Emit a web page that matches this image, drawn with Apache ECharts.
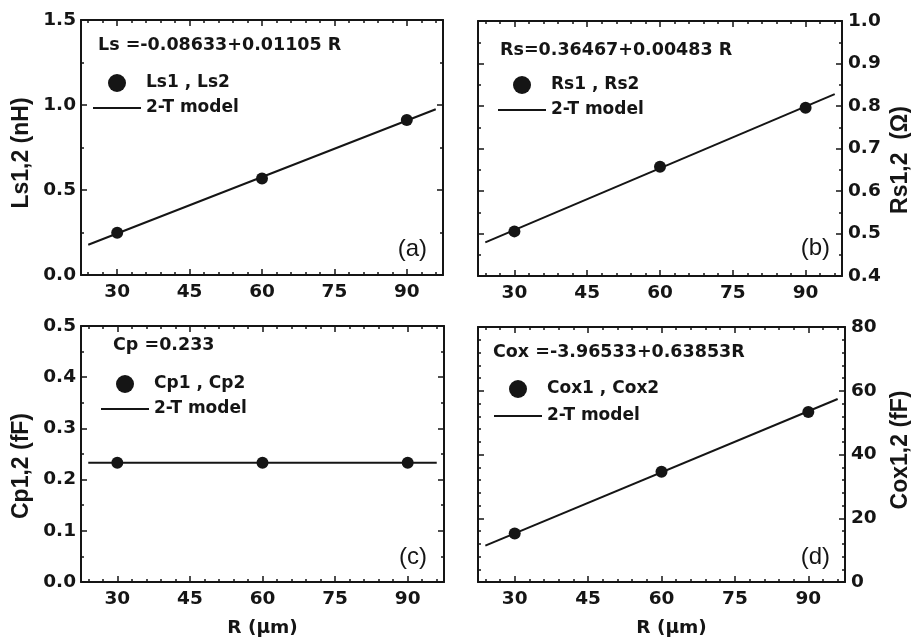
<!DOCTYPE html>
<html>
<head>
<meta charset="utf-8">
<script src="https://cdn.jsdelivr.net/npm/echarts@6/dist/echarts.min.js"></script>
<style>html,body{margin:0;padding:0;background:#fff}#c{width:911px;height:643px}</style>
</head>
<body>
<div id="c"></div>
<script>
// ---- data ----
const R = [30, 60, 90];
const Ls = [0.248, 0.568, 0.912];
const Rs = [0.505, 0.657, 0.796];
const Cp = [0.233, 0.233, 0.233];
const Cox = [15.2, 34.6, 53.3];
const modelR = [24, 96];
const modelLs = [0.178, 0.975];
const modelRs = [0.479, 0.828];
const modelCp = [0.233, 0.233];
const modelCox = [11.4, 57.4];
const xMajorTicks = [30, 45, 60, 75, 90];
const xMinorTicks = [24, 27, 33, 36, 39, 42, 48, 51, 54, 57, 63, 66, 69, 72, 78, 81, 84, 87, 93, 96];
const pointNames = ['Ls1 , Ls2', 'Rs1 , Rs2', 'Cp1 , Cp2', 'Cox1 , Cox2'];
const modelName = '2-T model';
const formulas = ['Ls =-0.08633+0.01105 R', 'Rs=0.36467+0.00483 R', 'Cp =0.233', 'Cox =-3.96533+0.63853R'];
const yNames = ['Ls1,2 (nH)', 'Rs1,2  (\u03A9)', 'Cp1,2 (fF)', 'Cox1,2 (fF)'];
const panelTags = ['(a)', '(b)', '(c)', '(d)'];
const xName = 'R (\u03BCm)';

const C = '#151515';
const HF = 'DejaVu Sans';
const VF = 'Liberation Sans';

const panels = [
  {grid:{left:81, top:20, width:362, height:255}, y:{min:0, max:1.5, interval:0.5, minor:2, dec:1, side:'left'},
   pts:Ls, model:modelLs, legend:{left:92, top:74, gap:7}, formula:[98,45], yName:[22,153], tag:[427,249], xname:false},
  {grid:{left:478, top:21, width:364, height:255}, y:{min:0.4, max:1.0, interval:0.1, minor:2, dec:1, side:'right'},
   pts:Rs, model:modelRs, legend:{left:497, top:76, gap:7}, formula:[500,50], yName:[901,160], tag:[830,248], xname:false},
  {grid:{left:81, top:326, width:363, height:256}, y:{min:0, max:0.5, interval:0.1, minor:2, dec:1, side:'left'},
   pts:Cp, model:modelCp, legend:{left:100, top:375, gap:7}, formula:[113,345], yName:[22,466], tag:[427,557], xname:true, xpad:0},
  {grid:{left:478, top:327, width:367, height:255}, y:{min:0, max:80, interval:20, minor:5, dec:0, side:'right'},
   pts:Cox, model:modelCox, legend:{left:493, top:380, gap:9}, formula:[493,352], yName:[901,450], tag:[830,557], xname:true, xpad:20}
];

const grid = [], xAxis = [], yAxis = [], series = [], legend = [], graphic = [];

panels.forEach((p, i) => {
  grid.push(Object.assign({containLabel:false}, p.grid));
  const baseX = {gridIndex:i, type:'value', min:22.5, max:97.5, splitLine:{show:false}};
  xAxis.push(Object.assign({}, baseX, {
    position:'bottom',
    axisLine:{show:true, onZero:false, lineStyle:{color:C, width:2}},
    axisTick:{show:true, inside:true, length:6, customValues:xMajorTicks, lineStyle:{color:C, width:1.5}},
    axisLabel:{show:true, customValues:xMajorTicks, margin:7, color:C, fontFamily:HF, fontWeight:'bold', fontSize:18.5, lineHeight:20},
    name: p.xname ? xName : '',
    nameLocation:'middle', nameGap:36,
    nameTextStyle:{color:C, fontFamily:HF, fontWeight:'bold', fontSize:18.5, lineHeight:20, padding:[0,0,0,p.xpad||0]}
  }));
  xAxis.push(Object.assign({}, baseX, {
    position:'bottom', axisLine:{show:false, onZero:false},
    axisTick:{show:true, inside:true, length:3, customValues:xMinorTicks, lineStyle:{color:C, width:1.5}},
    axisLabel:{show:false}
  }));
  xAxis.push(Object.assign({}, baseX, {
    position:'top',
    axisLine:{show:true, onZero:false, lineStyle:{color:C, width:2}},
    axisTick:{show:true, inside:true, length:6, customValues:xMajorTicks, lineStyle:{color:C, width:1.5}},
    axisLabel:{show:false}
  }));
  xAxis.push(Object.assign({}, baseX, {
    position:'top', axisLine:{show:false, onZero:false},
    axisTick:{show:true, inside:true, length:3, customValues:xMinorTicks, lineStyle:{color:C, width:1.5}},
    axisLabel:{show:false}
  }));

  ['left', 'right'].forEach(side => {
    yAxis.push({
      gridIndex:i, type:'value', position:side, min:p.y.min, max:p.y.max, interval:p.y.interval,
      axisLine:{show:true, onZero:false, lineStyle:{color:C, width:2}},
      axisTick:{show:true, inside:true, length:6, lineStyle:{color:C, width:1.5}},
      minorTick:{show:true, splitNumber:p.y.minor, length:3, lineStyle:{color:C, width:1.5}},
      splitLine:{show:false}, minorSplitLine:{show:false},
      axisLabel:{show: side === p.y.side, margin: side === 'left' ? 5 : 6, color:C, fontFamily:HF, fontWeight:'bold', fontSize:18.5,
        formatter: v => Number(v).toFixed(p.y.dec)}
    });
  });

  series.push({
    type:'line', name:modelName, xAxisIndex:i*4, yAxisIndex:i*2,
    data: modelR.map((r, j) => [r, p.model[j]]),
    symbol:'none', showSymbol:false, lineStyle:{color:C, width:2}, itemStyle:{color:C}, z:2, silent:true
  });
  series.push({
    type:'scatter', name:pointNames[i], xAxisIndex:i*4, yAxisIndex:i*2,
    data: R.map((r, j) => [r, p.pts[j]]),
    symbol:'circle', symbolSize:12, itemStyle:{color:C, opacity:1}, z:3, silent:true
  });

  legend.push({
    selectedMode:false, orient:'vertical', left:p.legend.left, top:p.legend.top, padding:0,
    itemWidth:48, itemHeight:18, itemGap:p.legend.gap,
    data:[
      {name:pointNames[i], icon:'circle', itemStyle:{color:C, opacity:1}},
      {name:modelName, itemStyle:{opacity:0}, lineStyle:{color:C, width:2}}
    ],
    textStyle:{color:C, fontFamily:HF, fontWeight:'bold', fontSize:17, lineHeight:18},
    lineStyle:{color:C, width:2}
  });

  graphic.push({type:'text', x:p.formula[0], y:p.formula[1], silent:true,
    style:{text:formulas[i], fill:C, font:'bold 17.5px "' + HF + '"', align:'left', verticalAlign:'middle', textAlign:'left', textVerticalAlign:'middle'}});
  graphic.push({type:'text', x:p.yName[0], y:p.yName[1], rotation:Math.PI/2, silent:true,
    style:{text:yNames[i], fill:C, font:'bold 23px "' + VF + '"', align:'center', verticalAlign:'middle', textAlign:'center', textVerticalAlign:'middle'}});
  graphic.push({type:'text', x:p.tag[0], y:p.tag[1], silent:true,
    style:{text:panelTags[i], fill:C, font:'24px "' + VF + '"', align:'right', verticalAlign:'middle', textAlign:'right', textVerticalAlign:'middle'}});
});

const chart = echarts.init(document.getElementById('c'), null, {renderer:'canvas'});
chart.setOption({animation:false, backgroundColor:'#fff', grid, xAxis, yAxis, series, legend, graphic});
</script>
</body>
</html>
